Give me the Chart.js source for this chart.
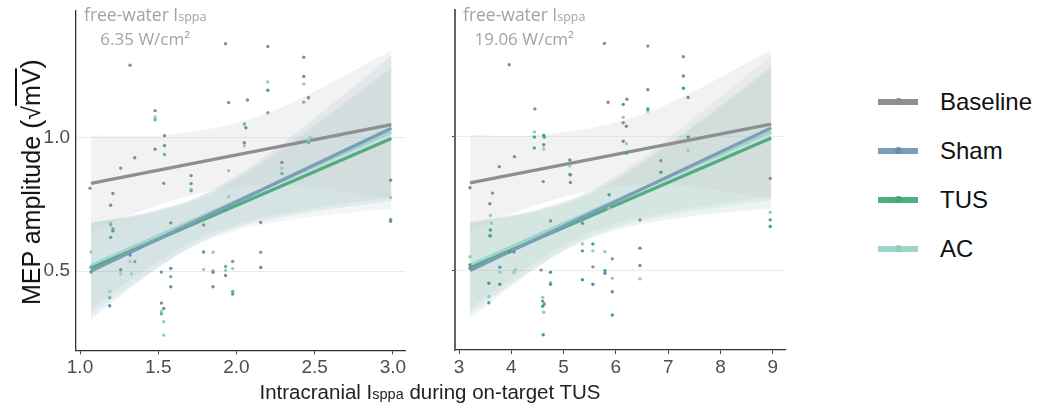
<!DOCTYPE html>
<html>
<head>
<meta charset="utf-8">
<script src="https://cdn.jsdelivr.net/npm/chart.js@4.4.0/dist/chart.umd.min.js"></script>
<style>
  body { margin: 0; background: #fff; width: 1051px; height: 404px; overflow: hidden; position: relative;
         font-family: "Liberation Sans", Arial, sans-serif; }
  canvas { position: absolute; top: 0; }
  #left { left: 0; }
  #right { left: 440px; }
  .note { position: absolute; font-family: "Open Sans", Lato, sans-serif; font-size: 17px; color: #a3a3a3;
          line-height: 22px; text-align: center; white-space: nowrap; z-index: 2; }
  .note .l1 { font-size: 17.5px; }
  .note .sub { font-size: 12.5px; }
  #ytitle { position: absolute; left: 31px; top: 182px; transform: translate(-50%, -50%) rotate(-90deg);
            font-size: 25px; color: #111; white-space: nowrap; }
  #ytitle .ov { text-decoration: overline; }
  #ytitle .par { font-size: 28px; }
  #xtitle { position: absolute; left: 430px; top: 380px; transform: translateX(-50%); font-size: 20.5px;
            color: #222; white-space: nowrap; }
  #xtitle .sub { font-size: 14.5px; }
  #legend { position: absolute; left: 878px; top: 88px; }
  .item { height: 49px; position: relative; }
  .bar { position: absolute; left: 0; top: 11px; width: 40px; height: 6px; }
  .dot { position: absolute; left: 17px; top: 10px; width: 7px; height: 7px; border-radius: 50%; }
  .lab { position: absolute; left: 62px; top: 0; font-size: 24px; color: #111; }
</style>
</head>
<body>
<canvas id="left" width="410" height="390"></canvas>
<canvas id="right" width="350" height="390"></canvas>
<div class="note" style="left:84px;top:3px;"><span class="l1">free-water I<span class="sub">sppa</span></span><br>6.35 W/cm²</div>
<div class="note" style="left:463px;top:3px;"><span class="l1">free-water I<span class="sub">sppa</span></span><br>19.06 W/cm²</div>
<div id="ytitle">MEP amplitude <span class="par">(</span>√<span class="ov">mV</span><span class="par">)</span></div>
<div id="xtitle">Intracranial I<span class="sub">sppa</span> during on-target TUS</div>
<div id="legend"></div>
<script>
const groups = ["Baseline", "Sham", "TUS", "AC"];
const lineColors = ["#8f8f93", "#7b9db5", "#4fae7f", "#9fd4cd"];
const dotColorsLeft = ["#8c8c8c", "#6a8fa8", "#69b39f", "#93cfc6"];
const dotColorsRight = ["#8c8c8c", "#6a8fa8", "#3fa86f", "#8fcfb8"];

const yTicks = [0.5, 1.0];
const yTickLabels = ["0.5", "1.0"];
const xTicksLeft = [1.0, 1.5, 2.0, 2.5, 3.0];
const xTickLabelsLeft = ["1.0", "1.5", "2.0", "2.5", "3.0"];
const xTicksRight = [3, 4, 5, 6, 7, 8, 9];
const xTickLabelsRight = ["3", "4", "5", "6", "7", "8", "9"];

// fitted lines (start / end)
const lineXLeft = [1.07, 2.99];
const lineXRight = [3.21, 8.97];
const fitBaseline = [0.828, 1.048];
const fitSham = [0.500, 1.034];
const fitTUS = [0.510, 0.996];
const fitAC = [0.520, 1.020];

// confidence bands
const bandXLeft = [1.07, 1.3, 1.5, 1.75, 2.0, 2.25, 2.5, 2.75, 2.99];
const bandXRight = [3.21, 3.9, 4.5, 5.25, 6.0, 6.75, 7.5, 8.25, 8.97];
const upBaseline = [1.008, 1.004, 1.007, 1.024, 1.055, 1.103, 1.172, 1.250, 1.325];
const loBaseline = [0.648, 0.704, 0.747, 0.788, 0.815, 0.823, 0.812, 0.790, 0.771];
const upSham = [0.680, 0.702, 0.728, 0.776, 0.856, 0.958, 1.072, 1.190, 1.305];
const loSham = [0.320, 0.426, 0.512, 0.602, 0.662, 0.698, 0.724, 0.744, 0.763];
const upTUS = [0.680, 0.700, 0.723, 0.766, 0.839, 0.935, 1.040, 1.150, 1.259];
const loTUS = [0.340, 0.436, 0.515, 0.598, 0.651, 0.683, 0.704, 0.720, 0.733];
const upAC = [0.680, 0.704, 0.729, 0.775, 0.849, 0.944, 1.048, 1.157, 1.265];
const loAC = [0.360, 0.456, 0.535, 0.619, 0.675, 0.710, 0.736, 0.757, 0.775];

// observations, left panel (6.35 W/cm²)
const obsBaselineL = [[1.064,0.81],[1.21,0.79],[1.196,0.746],[1.26,0.885],[1.32,1.27],[1.35,0.924],[1.48,1.10],[1.535,0.828],[1.54,1.006],[1.52,0.496],[1.58,0.68],[1.71,0.827],[1.79,0.672],[1.85,0.495],[1.93,1.35],[1.95,1.13],[1.976,0.536],[2.07,1.14],[2.155,0.682],[2.20,1.34],[2.29,0.906],[2.43,1.30],[2.985,0.84]];
const obsShamL = [[1.07,0.496],[1.196,0.626],[1.21,0.65],[1.19,0.37],[1.26,0.505],[1.32,0.56],[1.48,0.956],[1.54,0.969],[1.52,0.38],[1.535,0.36],[1.58,0.51],[1.58,0.441],[1.71,0.857],[1.79,0.571],[1.85,0.441],[1.93,0.483],[1.976,0.414],[2.05,0.98],[2.06,1.036],[2.155,0.513],[2.20,1.176],[2.43,1.228],[2.46,1.148],[2.985,0.686]];
const obsTUSL = [[1.07,0.514],[1.196,0.673],[1.21,0.658],[1.19,0.40],[1.35,0.535],[1.48,1.066],[1.54,0.936],[1.52,0.34],[1.58,0.479],[1.71,0.80],[1.85,0.50],[1.93,0.517],[1.976,0.424],[2.05,1.05],[2.155,0.57],[2.20,1.092],[2.29,0.865],[2.46,0.98],[2.43,1.132],[2.985,0.693]];
const obsACL = [[1.07,0.571],[1.196,0.68],[1.19,0.424],[1.26,0.49],[1.32,0.535],[1.33,0.49],[1.48,1.076],[1.52,0.35],[1.535,0.31],[1.535,0.26],[1.71,0.805],[1.79,0.506],[1.85,0.57],[1.93,0.502],[1.95,0.875],[1.95,0.778],[1.976,0.509],[2.05,0.968],[2.20,1.207],[2.29,0.884],[2.43,1.20],[2.46,0.99],[2.47,1.0],[2.985,0.775]];

// observations, right panel (19.06 W/cm²)
const obsBaselineR = [[3.21,0.81],[3.64,0.79],[3.59,0.75],[3.77,0.889],[3.96,1.27],[4.06,0.926],[4.45,1.105],[4.61,0.833],[4.57,0.502],[4.75,0.686],[5.13,0.83],[5.36,0.677],[5.56,0.514],[5.78,1.35],[5.85,1.13],[5.93,0.544],[6.21,1.141],[6.14,1.053],[6.46,0.69],[6.61,1.34],[6.86,0.911],[7.29,1.30],[8.95,0.845]];
const obsShamR = [[3.21,0.509],[3.6,0.63],[3.57,0.38],[3.78,0.513],[4.05,0.57],[4.44,0.959],[4.62,0.971],[4.6,0.386],[4.63,0.375],[4.75,0.449],[5.12,0.86],[5.13,0.858],[5.36,0.574],[5.56,0.449],[5.79,0.49],[5.87,0.784],[5.93,0.421],[6.14,0.984],[6.2,1.04],[6.46,0.519],[6.61,1.177],[7.29,1.228],[7.38,1.148],[8.95,0.69]];
const obsTUSR = [[3.21,0.521],[3.6,0.652],[3.59,0.63],[3.57,0.453],[3.78,0.449],[3.97,0.57],[4.44,1.0],[4.62,1.006],[4.63,1.0],[4.6,0.367],[4.61,0.26],[4.75,0.494],[5.12,0.914],[5.36,0.466],[5.56,0.6],[5.79,0.5],[5.93,0.334],[6.14,1.122],[6.2,0.94],[6.46,0.584],[6.61,1.105],[6.86,0.868],[7.29,1.182],[7.38,1.0],[8.95,0.665]];
const obsACR = [[3.21,0.552],[3.6,0.706],[3.62,0.677],[3.57,0.403],[3.78,0.494],[4.05,0.494],[4.08,0.503],[4.44,1.019],[4.62,0.955],[4.6,0.40],[4.62,0.344],[4.75,0.455],[5.12,0.891],[5.36,0.6],[5.56,0.574],[5.79,0.571],[5.87,0.733],[5.93,0.471],[6.14,1.074],[6.2,0.975],[6.46,0.469],[6.61,1.096],[7.38,0.95],[8.95,0.718]];

const fits = [fitBaseline, fitSham, fitTUS, fitAC];
const ups = [upBaseline, upSham, upTUS, upAC];
const los = [loBaseline, loSham, loTUS, loAC];

function buildDatasets(bandX, lineX, obs, fills, dots) {
  const ds = [];
  groups.forEach((g, i) => {
    ds.push({ label: g + " upper", data: bandX.map((x, k) => ({ x: x, y: ups[i][k] })),
      fill: "+1", backgroundColor: fills[i], borderWidth: 0, pointRadius: 0, tension: 0.4, order: 3 });
    ds.push({ label: g + " lower", data: bandX.map((x, k) => ({ x: x, y: los[i][k] })),
      fill: false, borderWidth: 0, pointRadius: 0, tension: 0.4, order: 3 });
  });
  groups.forEach((g, i) => {
    ds.push({ label: g, data: lineX.map((x, k) => ({ x: x, y: fits[i][k] })),
      borderColor: lineColors[i], borderWidth: 3.3, pointRadius: 0, fill: false, order: 1 });
  });
  groups.forEach((g, i) => {
    ds.push({ type: "scatter", label: g + " obs", data: obs[i].map(p => ({ x: p[0], y: p[1] })),
      backgroundColor: dots[i], borderWidth: 0, pointRadius: 1.7, order: 0 });
  });
  return ds;
}

function makeChart(id, opts) {
  const canvas = document.getElementById(id);
  const chart = new Chart(canvas, {
    type: "line",
    data: { datasets: buildDatasets(opts.bandX, opts.lineX, opts.obs, opts.fills, opts.dots) },
    options: {
      responsive: false,
      animation: false,
      layout: { padding: { top: 10, right: 5, left: 0, bottom: 0 } },
      plugins: { legend: { display: false }, tooltip: { enabled: false } },
      scales: {
        x: {
          type: "linear", min: opts.xMin, max: opts.xMax,
          afterBuildTicks: s => { s.ticks = opts.xTicks.map(v => ({ value: v })); },
          afterFit: s => { s.height = 30; },
          ticks: { callback: (v, i) => opts.xLabels[i], color: "#4d4d4d", padding: 2,
                   maxRotation: 0, autoSkip: false, font: { family: "Liberation Sans", size: 19 } },
          grid: { drawOnChartArea: false, drawTicks: true, tickLength: 4, tickColor: "#444" },
          border: { color: "#333", width: 1.3 }
        },
        y: {
          type: "linear", min: 0.203, max: 1.475,
          afterBuildTicks: s => { s.ticks = yTicks.map(v => ({ value: v })); },
          afterFit: s => { s.width = opts.yWidth; },
          ticks: { display: opts.yLabels, callback: (v, i) => yTickLabels[i], color: "#4d4d4d", padding: 6,
                   font: { family: "Liberation Sans", size: 19 } },
          grid: { color: "#ebebeb", lineWidth: 1, drawTicks: !opts.yLabels, tickLength: 3, tickColor: "#444" },
          border: { color: opts.yLabels ? "#333" : "#666", width: opts.yLabels ? 1.3 : 2 }
        }
      }
    }
  });
  // size the plot area to the reference: 340 px tall, top edge at y = 10
  const extra = (chart.chartArea.bottom - chart.chartArea.top) - 340;
  chart.options.layout.padding.bottom = extra;
  chart.update();
  canvas.style.top = (10 - chart.chartArea.top) + "px";
  return chart;
}

makeChart("left", {
  bandX: bandXLeft, lineX: lineXLeft, dots: dotColorsLeft,
  obs: [obsBaselineL, obsShamL, obsTUSL, obsACL],
  fills: ["rgba(205,205,205,0.26)", "rgba(130,160,182,0.16)", "rgba(125,170,160,0.10)", "rgba(150,200,198,0.14)"],
  xMin: 0.9744, xMax: 3.077, xTicks: xTicksLeft, xLabels: xTickLabelsLeft, yWidth: 76, yLabels: true
});
makeChart("right", {
  bandX: bandXRight, lineX: lineXRight, dots: dotColorsRight,
  obs: [obsBaselineR, obsShamR, obsTUSR, obsACR],
  fills: ["rgba(205,205,205,0.26)", "rgba(140,165,180,0.12)", "rgba(110,175,140,0.14)", "rgba(150,205,195,0.14)"],
  xMin: 2.9235, xMax: 9.233, xTicks: xTicksRight, xLabels: xTickLabelsRight, yWidth: 15, yLabels: false
});

// legend
const legend = document.getElementById("legend");
groups.forEach((g, i) => {
  const item = document.createElement("div");
  item.className = "item";
  item.innerHTML = '<div class="bar" style="background:' + lineColors[i] + '"></div>' +
    '<div class="dot" style="background:' + dotColorsRight[i] + '"></div>' +
    '<div class="lab">' + g + '</div>';
  legend.appendChild(item);
});
</script>
</body>
</html>
